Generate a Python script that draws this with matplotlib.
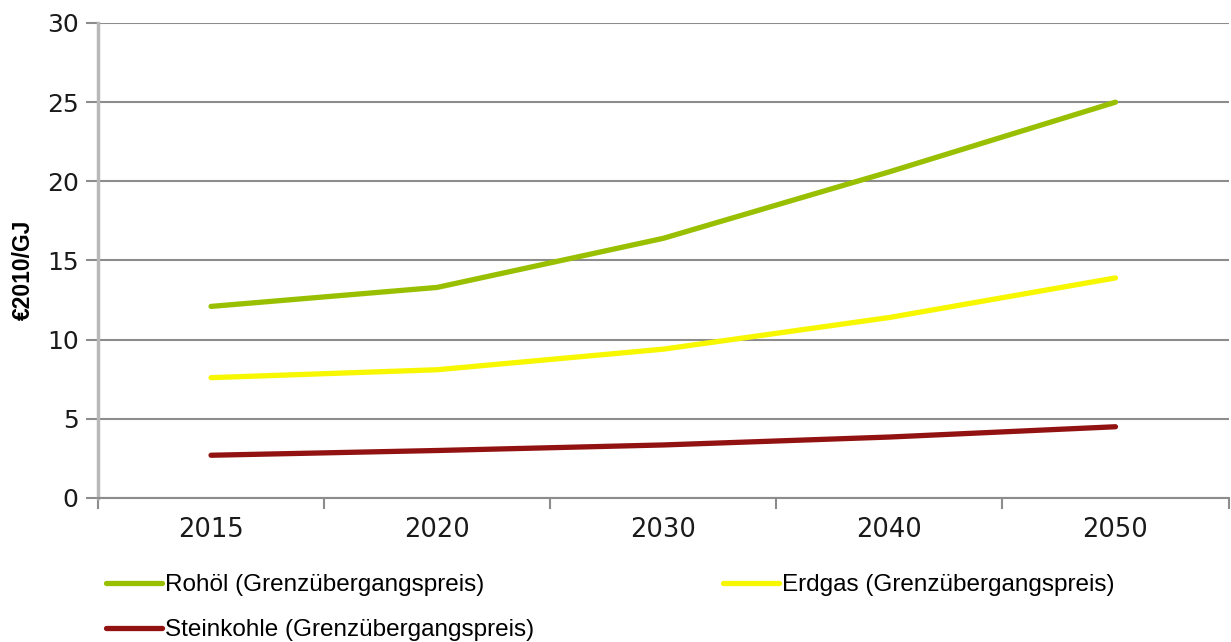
import numpy as np
import matplotlib.pyplot as plt

# Daten (Preise in €2010/GJ)
jahre = ['2015', '2020', '2030', '2040', '2050']
rohoel = [12.1, 13.3, 16.4, 20.6, 25.0]
erdgas = [7.6, 8.1, 9.4, 11.4, 13.9]
steinkohle = [2.7, 3.0, 3.35, 3.85, 4.5]

plt.rcParams['font.family'] = ['Liberation Sans', 'DejaVu Sans']

fig = plt.figure(figsize=(12.31, 6.42), dpi=100)
ax = fig.add_axes([0.0796, 0.2243, 0.9184, 0.7399])

x = np.arange(len(jahre))
l1, = ax.plot(x, rohoel, color='#99c000', lw=3.8, solid_capstyle='round',
              label='Rohöl (Grenzübergangspreis)')
l2, = ax.plot(x, erdgas, color='#f7f700', lw=3.8, solid_capstyle='round',
              label='Erdgas (Grenzübergangspreis)')
l3, = ax.plot(x, steinkohle, color='#921212', lw=3.8, solid_capstyle='round',
              label='Steinkohle (Grenzübergangspreis)')

# Achsen
ax.set_xlim(-0.5, len(jahre) - 0.5)
ax.set_ylim(0, 30)
ax.set_yticks(range(0, 31, 5))
ax.set_xticks(x)
ax.set_xticklabels(jahre, fontsize=18.5, family='DejaVu Sans', color='#1a1a1a')
ax.set_xticks(np.arange(-0.5, len(jahre), 1), minor=True)
ax.tick_params(axis='x', which='major', length=0, pad=14)
ax.tick_params(axis='x', which='minor', length=8, width=1.5, color='#8c8c8c')
ax.tick_params(axis='y', length=9, width=1.5, color='#8c8c8c', pad=5)
ax.set_yticklabels([str(v) for v in range(0, 31, 5)], family='DejaVu Sans',
                   fontsize=18, color='#1a1a1a')
ax.yaxis.grid(True, color='#8c8c8c', lw=1.5)
ax.set_axisbelow(True)

for s in ['top', 'right']:
    ax.spines[s].set_visible(False)
ax.spines['bottom'].set_color('#8c8c8c')
ax.spines['bottom'].set_linewidth(1.5)
ax.spines['left'].set_color('#b8b8b8')
ax.spines['left'].set_linewidth(2.5)

ax.set_ylabel('€2010/GJ', fontsize=16.5, fontweight='bold')
ax.yaxis.set_label_coords(-0.056, 0.48)

# Legende unten
fig.legend([l1, l3, l2], [l1.get_label(), l3.get_label(), l2.get_label()],
           ncol=2, loc='upper left', bbox_to_anchor=(0.078, 0.121),
           frameon=False, fontsize=17.5, handlelength=2.3, handletextpad=0.12,
           columnspacing=7.8, labelspacing=0.95, borderaxespad=0)

plt.savefig('out.png', dpi=100)
